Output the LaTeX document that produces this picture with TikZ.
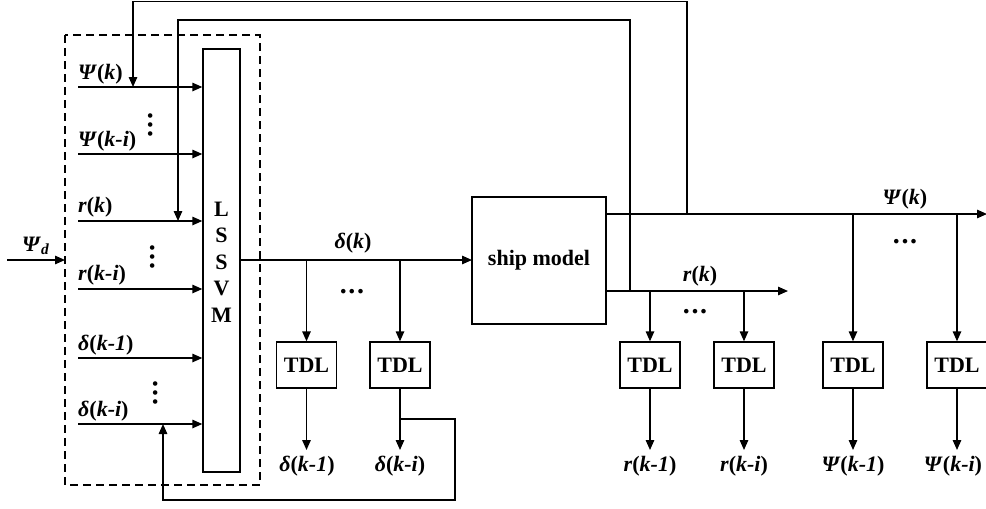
\documentclass[tikz,border=0pt]{standalone}
\usepackage{fontspec}
\setmainfont{Liberation Serif}
\usetikzlibrary{arrows.meta}
\newcommand\tridots{{\fontsize{28}{28}\selectfont.\kern1.6pt.\kern1.6pt.}}
\newcommand\bi[1]{\textit{#1}}
\begin{document}
\begin{tikzpicture}[x=1pt,y=-1pt,
  every node/.style={font=\fontsize{22}{26.5}\selectfont\bfseries},
  wire/.style={line width=1.4pt},
  arr/.style={wire,-{Triangle[length=10pt,width=8.5pt]}},
  blk/.style={draw,line width=1.4pt,inner sep=0pt},
  tdl/.style={blk,minimum width=60pt,minimum height=46pt},
  lbl/.style={anchor=base,inner sep=0pt},
  inlbl/.style={anchor=base west,inner sep=0pt},
  hdots/.style={inner sep=0pt},
  vdots/.style={inner sep=0pt,rotate=90},
  frame/.style={draw,dashed,line width=2pt,dash pattern=on 8pt off 5pt}
]
\useasboundingbox (0,0) rectangle (986,509);

% dashed frame round the regressor inputs
\draw[frame] (65,35) rectangle (260,485);

% main blocks
\node[blk,minimum width=37pt,minimum height=423pt] (svm) at (221.5,260.5) {};
\node[align=center,inner sep=0pt] (svmtxt) at (221.5,262) {L\\S\\S\\V\\M};
\node[blk,minimum width=134pt,minimum height=127pt] (ship) at (539,260.5) {ship model};

\node[tdl] (td1) at (306.5,365) {TDL};
\node[tdl] (td2) at (400,365) {TDL};
\node[tdl] (tr1) at (650,365) {TDL};
\node[tdl] (tr2) at (744,365) {TDL};
\node[tdl] (tp1) at (853,365) {TDL};
\node[tdl] (tp2) at (957,365) {TDL};

% inputs of the LSSVM
\coordinate (i1) at (78,87);
\coordinate (i2) at (78,154);
\coordinate (i3) at (78,221);
\coordinate (i4) at (78,289);
\coordinate (i5) at (78,358);
\coordinate (i6) at (78,424);
\foreach \c in {i1,i2,i3,i4,i5,i6} \draw[arr] (\c) -- (\c -| svm.west);

\node[inlbl] (l1) at (78,79) {\bi{Ψ}(\bi{k})};
\node[inlbl] (l2) at (78,146) {\bi{Ψ}(\bi{k-i})};
\node[inlbl] (l3) at (78,212) {\bi{r}(\bi{k})};
\node[inlbl] (l4) at (78,280) {\bi{r}(\bi{k-i})};
\node[inlbl] (l5) at (78,350) {\bi{δ}(\bi{k-1})};
\node[inlbl] (l6) at (78,416) {\bi{δ}(\bi{k-i})};

\node[vdots] (v1) at (151,125) {\tridots};
\node[vdots] (v2) at (153,257) {\tridots};
\node[vdots] (v3) at (156,393) {\tridots};

% reference heading input
\coordinate (pd) at (7,260);
\coordinate (pde) at (65,260);
\draw[arr] (pd) -- (pde);
\node[anchor=base west,inner sep=0pt] (pdl) at (22,251) {\bi{Ψ}\textsubscript{\bi{d}}};

% rudder command to the ship model and its delay lines
\coordinate (sv) at (240,260);
\coordinate (svend) at (472,260);
\draw[arr] (sv) -- (svend);
\node[lbl] (dk) at (353,248) {\bi{δ}(\bi{k})};
\coordinate (bd1) at (306.5,260);
\coordinate (bd2) at (400,260);
\draw[arr] (bd1) -- (td1.north);
\draw[arr] (bd2) -- (td2.north);
\node[hdots] (hd1) at (352,292) {\tridots};
\coordinate (od1) at (306.5,450);
\coordinate (od2) at (400,450);
\draw[arr] (td1.south) -- (od1);
\draw[arr] (td2.south) -- (od2);
\node[lbl] (ld1) at (307,471) {\bi{δ}(\bi{k-1})};
\node[lbl] (ld2) at (400,471) {\bi{δ}(\bi{k-i})};

% delayed rudder fed back to the last input
\coordinate (fb3) at (400,419);
\coordinate (fb3e) at (163,424);
\draw[arr] (fb3) -- (455,419) -- (455,500) -- (163,500) -- (fb3e);

% heading output
\coordinate (pk) at (606,214);
\coordinate (pend) at (987,214);
\draw[arr] (pk) -- (pend);
\node[lbl] (lpk) at (905,204) {\bi{Ψ}(\bi{k})};
\coordinate (bp1) at (853,214);
\coordinate (bp2) at (957,214);
\draw[arr] (bp1) -- (tp1.north);
\draw[arr] (bp2) -- (tp2.north);
\node[hdots] (hd3) at (905,242) {\tridots};
\coordinate (op1) at (853,450);
\coordinate (op2) at (957,450);
\draw[arr] (tp1.south) -- (op1);
\draw[arr] (tp2.south) -- (op2);
\node[lbl] (lp1) at (853,471) {\bi{Ψ}(\bi{k-1})};
\node[lbl] (lp2) at (953,471) {\bi{Ψ}(\bi{k-i})};

% yaw rate output
\coordinate (rk) at (606,291);
\coordinate (rend) at (788,291);
\draw[arr] (rk) -- (rend);
\node[lbl] (lrk) at (700,281) {\bi{r}(\bi{k})};
\coordinate (br1) at (650,291);
\coordinate (br2) at (744,291);
\draw[arr] (br1) -- (tr1.north);
\draw[arr] (br2) -- (tr2.north);
\node[hdots] (hd2) at (695,312) {\tridots};
\coordinate (or1) at (650,450);
\coordinate (or2) at (744,450);
\draw[arr] (tr1.south) -- (or1);
\draw[arr] (tr2.south) -- (or2);
\node[lbl] (lr1) at (650,471) {\bi{r}(\bi{k-1})};
\node[lbl] (lr2) at (744,471) {\bi{r}(\bi{k-i})};

% feedback of the current heading and yaw rate
\coordinate (fb1) at (687,214);
\coordinate (fb1e) at (133,87);
\draw[arr] (fb1) -- (687,1.5) -- (133,1.5) -- (fb1e);
\coordinate (fb2) at (630,291);
\coordinate (fb2e) at (178,221);
\draw[arr] (fb2) -- (630,20) -- (178,20) -- (fb2e);
\end{tikzpicture}
\end{document}
